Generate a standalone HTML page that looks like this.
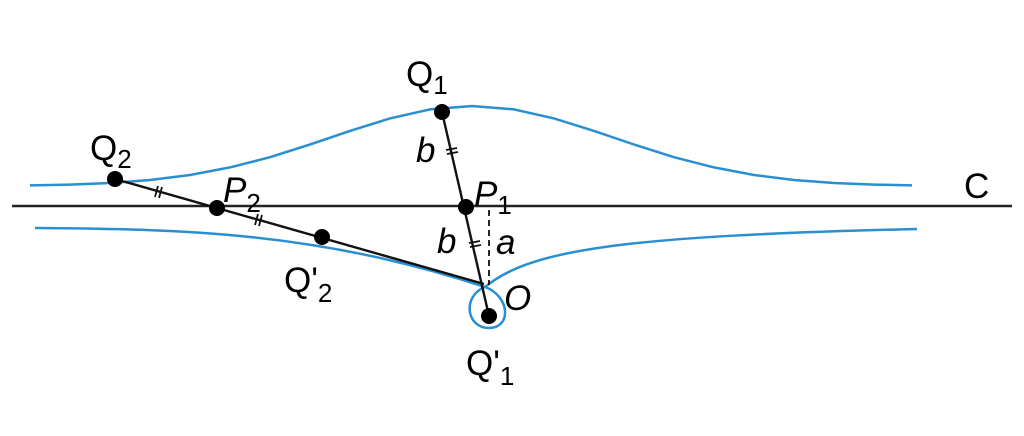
<!DOCTYPE html>
<html><head><style>body{margin:0;background:#fff}svg{display:block}</style></head>
<body>
<svg width="1024" height="436" viewBox="0 0 1024 436" xmlns="http://www.w3.org/2000/svg" font-family="Liberation Sans, DejaVu Sans, sans-serif">
<line x1="12" y1="206" x2="1012" y2="206" stroke="#222" stroke-width="2.4"/>
<g fill="none" stroke="#2a8fd0" stroke-width="2.5">
<polyline points="30,185.4 70,184.6 110,183 150,180 190,175 230,167.4 270,157.2 310,144.5 350,130.9 390,118.4 430,109.4 472,106 514,109.4 554,118.4 594,130.9 634,144.5 674,157.2 714,167.4 754,175 794,180 834,183 874,184.6 912,185.4"/>
<path d="M35,228 C180,229 320,232 485,287"/>
<path d="M485,287 C530,250 620,236 917,229"/>
<path d="M485,287 C462,296 466,328 489,328 C512,328 510,296 485,287"/>
</g>
<g stroke="#111" stroke-width="2.4">
<line x1="442" y1="112" x2="489" y2="316"/>
<line x1="115" y1="179" x2="484" y2="284"/>
<line x1="489" y1="210" x2="489" y2="285" stroke-dasharray="6,4" stroke-width="1.8"/>
<g stroke-width="1.8">
<line x1="158" y1="186" x2="155" y2="197"/><line x1="162" y1="187" x2="159" y2="198"/>
<line x1="258" y1="214" x2="255" y2="225"/><line x1="262" y1="215" x2="259" y2="226"/>
<line x1="446" y1="150" x2="457" y2="148"/><line x1="447" y1="154" x2="458" y2="152"/>
<line x1="469" y1="243" x2="480" y2="241"/><line x1="470" y1="247" x2="481" y2="245"/>
</g>
</g>
<g fill="#000">
<circle cx="442" cy="112" r="8"/><circle cx="466" cy="207" r="8"/><circle cx="489" cy="316" r="8"/>
<circle cx="115" cy="179" r="8"/><circle cx="217" cy="208" r="8"/><circle cx="322" cy="237" r="8"/>
</g>
<g font-size="35" fill="#000">
<text x="406" y="86">Q<tspan font-size="26" dy="8">1</tspan></text>
<text x="416" y="162" font-style="italic">b</text>
<text x="474" y="206" font-style="italic">P<tspan font-size="26" dy="8" font-style="normal">1</tspan></text>
<text x="437" y="253" font-style="italic">b</text>
<text x="496" y="254" font-style="italic">a</text>
<text x="504" y="310" font-style="italic">O</text>
<text x="466" y="375">Q'<tspan font-size="26" dy="10">1</tspan></text>
<text x="964" y="198">C</text>
<text x="90" y="160">Q<tspan font-size="26" dy="8">2</tspan></text>
<text x="223" y="202" font-style="italic">P<tspan font-size="26" dy="10" font-style="normal">2</tspan></text>
<text x="284" y="292">Q'<tspan font-size="26" dy="10">2</tspan></text>
</g>
</svg>
</body></html>
